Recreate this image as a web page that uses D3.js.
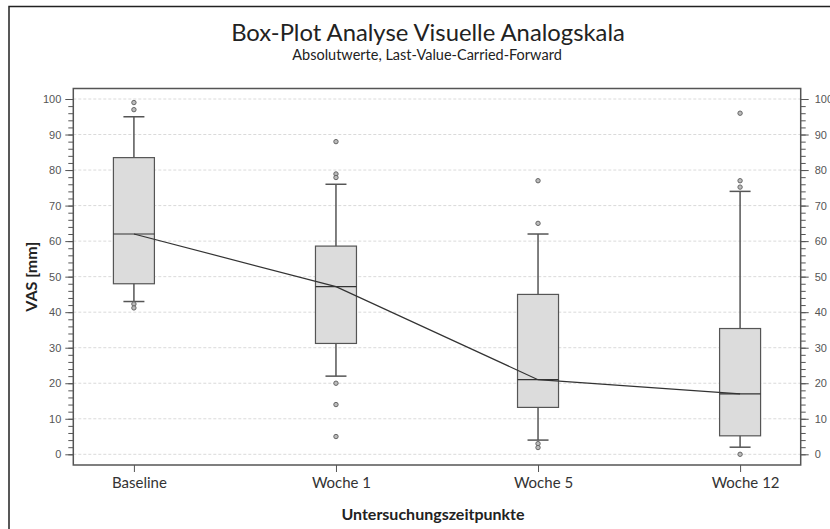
<!DOCTYPE html>
<html>
<head>
<meta charset="utf-8">
<script src="https://cdn.jsdelivr.net/npm/d3@7"></script>
<style>
    body { margin: 0; background: white; }
    #chart-area { width: 830px; height: 529px; overflow: hidden; }
    .title { font-family: Lato, sans-serif; fill: #222; }
    .axis text { font-family: "Liberation Sans", Arial, sans-serif; font-size: 11px; fill: #555; }
    .axis line { stroke: #555; }
    .x-axis text { font-family: Lato, sans-serif; font-size: 15px; fill: #333; }
</style>
</head>
<body>
<div id="chart-area"></div>
<script>

// Box plot values per time point (VAS in mm)
const categories = ["Baseline", "Woche 1", "Woche 5", "Woche 12"];
const whiskerLow = [43, 22, 4, 2];
const q1 = [48, 31.2, 13.2, 5.2];
const medians = [62, 47.2, 21, 17];
const q3 = [83.5, 58.6, 45, 35.4];
const whiskerHigh = [95, 76, 62, 74];
const outliers = [
    [99, 97, 42.3, 41.2],
    [88, 78.9, 77.9, 20, 14, 5],
    [77, 65, 3, 1.9],
    [96, 77, 75.2, 0]
];
const yTicks = [0, 10, 20, 30, 40, 50, 60, 70, 80, 90, 100];
const yMinorTicks = d3.range(0, 101, 2);

class BoxPlotVis {

    constructor(_parentElement) {
        this.parentElement = _parentElement;

        this.displayData = categories.map((c, i) => {
            return {
                "category": c,
                "low": whiskerLow[i],
                "q1": q1[i],
                "median": medians[i],
                "q3": q3[i],
                "high": whiskerHigh[i],
                "outliers": outliers[i]
            };
        });

        this.initVis();
    }

    initVis() {
        let vis = this;

        vis.width = 830;
        vis.height = 529;

        // plot frame
        vis.plot = { left: 73.3, right: 800.7, top: 88.5, bottom: 465 };

        vis.svg = d3.select("#" + vis.parentElement).append("svg")
            .attr("width", vis.width)
            .attr("height", vis.height);

        // outer frame (runs past the bottom/right edge)
        vis.svg.append("rect")
            .attr("x", 9)
            .attr("y", 6.5)
            .attr("width", 850)
            .attr("height", 560)
            .attr("fill", "white")
            .attr("stroke", "#222")
            .attr("stroke-width", 1.5);

        vis.svg.append("text")
            .attr("class", "title")
            .attr("x", 428)
            .attr("y", 41)
            .attr("text-anchor", "middle")
            .style("font-size", "23.8px")
            .text("Box-Plot Analyse Visuelle Analogskala");

        vis.svg.append("text")
            .attr("class", "title")
            .attr("x", 427)
            .attr("y", 60)
            .attr("text-anchor", "middle")
            .style("font-size", "14.5px")
            .text("Absolutwerte, Last-Value-Carried-Forward");

        // scales
        vis.x = d3.scalePoint()
            .domain(categories)
            .range([vis.plot.left, vis.plot.right])
            .padding(0.3);

        vis.y = d3.scaleLinear()
            .domain([0, 100])
            .range([454.3, 99]);

        // gridlines
        vis.svg.append("g")
            .selectAll("line")
            .data(yTicks)
            .enter()
            .append("line")
            .attr("x1", vis.plot.left)
            .attr("x2", vis.plot.right)
            .attr("y1", d => vis.y(d))
            .attr("y2", d => vis.y(d))
            .attr("stroke", "#dadada")
            .attr("stroke-dasharray", "3,2");

        // axes
        vis.svg.append("g")
            .attr("class", "axis y-axis")
            .attr("transform", "translate(" + vis.plot.left + ",0)")
            .call(d3.axisLeft(vis.y).tickValues(yMinorTicks).tickSize(5).tickFormat(""))
            .call(g => g.select(".domain").remove());

        vis.svg.append("g")
            .attr("class", "axis y-axis")
            .attr("transform", "translate(" + vis.plot.left + ",0)")
            .call(d3.axisLeft(vis.y).tickValues(yTicks).tickSize(8).tickPadding(4))
            .call(g => g.select(".domain").remove());

        vis.svg.append("g")
            .attr("class", "axis y-axis")
            .attr("transform", "translate(" + vis.plot.right + ",0)")
            .call(d3.axisRight(vis.y).tickValues(yMinorTicks).tickSize(5).tickFormat(""))
            .call(g => g.select(".domain").remove());

        vis.svg.append("g")
            .attr("class", "axis y-axis")
            .attr("transform", "translate(" + vis.plot.right + ",0)")
            .call(d3.axisRight(vis.y).tickValues(yTicks).tickSize(8).tickPadding(6))
            .call(g => g.select(".domain").remove());

        vis.svg.append("g")
            .attr("class", "axis x-axis")
            .attr("transform", "translate(0," + vis.plot.bottom + ")")
            .call(d3.axisBottom(vis.x).tickSize(7).tickPadding(5))
            .call(g => g.select(".domain").remove())
            .selectAll("text")
            .attr("dx", 5);

        // plot frame
        vis.svg.append("rect")
            .attr("x", vis.plot.left)
            .attr("y", vis.plot.top)
            .attr("width", vis.plot.right - vis.plot.left)
            .attr("height", vis.plot.bottom - vis.plot.top)
            .attr("fill", "none")
            .attr("stroke", "#555")
            .attr("stroke-width", 1.5);

        // axis labels
        vis.svg.append("text")
            .attr("transform", "rotate(-90)")
            .attr("x", -(vis.plot.top + vis.plot.bottom) / 2)
            .attr("y", 37)
            .attr("text-anchor", "middle")
            .style("font-family", "Lato, sans-serif")
            .style("font-weight", "bold")
            .style("font-size", "16px")
            .style("fill", "#222")
            .text("VAS [mm]");

        vis.svg.append("text")
            .attr("x", 433)
            .attr("y", 520)
            .attr("text-anchor", "middle")
            .style("font-family", "Lato, sans-serif")
            .style("font-weight", "bold")
            .style("font-size", "16px")
            .style("fill", "#222")
            .text("Untersuchungszeitpunkte");

        vis.updateVis();
    }

    updateVis() {
        let vis = this;

        let boxWidth = 41;
        let capWidth = 21;

        let groups = vis.svg.selectAll(".box")
            .data(vis.displayData)
            .enter()
            .append("g")
            .attr("class", "box")
            .attr("transform", d => "translate(" + vis.x(d.category) + ",0)");

        // whiskers
        groups.append("line")
            .attr("x1", 0).attr("x2", 0)
            .attr("y1", d => vis.y(d.high))
            .attr("y2", d => vis.y(d.low))
            .attr("stroke", "#555")
            .attr("stroke-width", 1.5);

        groups.selectAll(".cap")
            .data(d => [d.low, d.high])
            .enter()
            .append("line")
            .attr("class", "cap")
            .attr("x1", -capWidth / 2)
            .attr("x2", capWidth / 2)
            .attr("y1", d => vis.y(d))
            .attr("y2", d => vis.y(d))
            .attr("stroke", "#555")
            .attr("stroke-width", 1.5);

        // boxes
        groups.append("rect")
            .attr("x", -boxWidth / 2)
            .attr("y", d => vis.y(d.q3))
            .attr("width", boxWidth)
            .attr("height", d => vis.y(d.q1) - vis.y(d.q3))
            .attr("fill", "#dcdcdc")
            .attr("stroke", "#555")
            .attr("stroke-width", 1.2);

        groups.append("line")
            .attr("x1", -boxWidth / 2)
            .attr("x2", boxWidth / 2)
            .attr("y1", d => vis.y(d.median))
            .attr("y2", d => vis.y(d.median))
            .attr("stroke", "#333")
            .attr("stroke-width", 1.2);

        // outliers
        groups.selectAll(".outlier")
            .data(d => d.outliers)
            .enter()
            .append("circle")
            .attr("class", "outlier")
            .attr("cx", 0)
            .attr("cy", d => vis.y(d))
            .attr("r", 2.2)
            .attr("fill", "#bbb")
            .attr("stroke", "#666")
            .attr("stroke-width", 1);

        // line through the medians
        const line = d3.line()
            .x(d => vis.x(d.category))
            .y(d => vis.y(d.median));

        vis.svg.append("path")
            .attr("d", line(vis.displayData))
            .attr("fill", "none")
            .attr("stroke", "#333")
            .attr("stroke-width", 1.2);
    }
}

let boxPlot = new BoxPlotVis("chart-area");

</script>
</body>
</html>
